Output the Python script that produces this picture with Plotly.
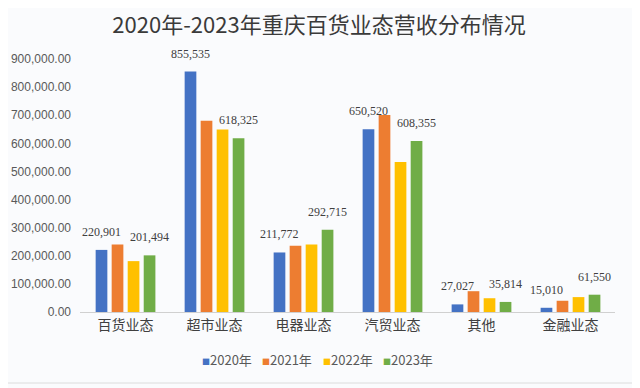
import plotly.graph_objects as go

categories = ["百货业态", "超市业态", "电器业态", "汽贸业态", "其他", "金融业态"]
years = ["2020年", "2021年", "2022年", "2023年"]
v2020 = [220901, 855535, 211772, 650520, 27027, 15010]
v2021 = [240000, 680000, 236000, 701000, 74000, 40000]
v2022 = [181000, 649000, 240000, 534000, 49000, 53000]
v2023 = [201494, 618325, 292715, 608355, 35814, 61550]
labelled = {"2020年": v2020, "2023年": v2023}
series = [v2020, v2021, v2022, v2023]
colors = ["#4472C4", "#ED7D31", "#FFC000", "#70AD47"]

# page body has an 8px margin; lay the figure out in page pixels minus 8
OFF = 8
PL, PR, PT, PB = 80 - OFF, 615 - OFF, 59 - OFF, 312 - OFF
W, H = 640, 388
PW, PH = PR - PL, PB - PT


def px_x(x):
    return (x - OFF - PL) / PW


def px_y(y):
    return (PB - (y - OFF)) / PH


BARGAP = 0.28
fig = go.Figure()
for name, vals, c in zip(years, series, colors):
    fig.add_trace(go.Bar(x=categories, y=vals, name=name, marker_color=c,
                         marker_line_width=0, showlegend=False))

slot = (1 - BARGAP) / len(years)
for j, name in enumerate(years):
    if name not in labelled:
        continue
    off = (j - (len(years) - 1) / 2) * slot
    for i, v in enumerate(labelled[name]):
        fig.add_annotation(x=i + off, y=v, xref="x", yref="y", text=f"{v:,}",
                           showarrow=False, yanchor="bottom", yshift=9,
                           font=dict(family="Liberation Serif", size=12, color="#404040"))

# legend row (square swatch + year label)
for k, (name, c) in enumerate(zip(years, colors)):
    fig.add_annotation(
        xref="paper", yref="paper", x=px_x(200 + k * 60.3), y=px_y(359),
        xanchor="left", yanchor="middle", showarrow=False,
        text=f"<span style='font-size:8px;color:{c}'>■</span>{name}",
        font=dict(family="Noto Sans CJK SC", size=13, color="#595959"))

# light frame of the original image
fig.add_shape(type="rect", xref="paper", yref="paper",
              x0=px_x(1), x1=px_x(635), y0=px_y(383), y1=px_y(1),
              line=dict(color="#dcdcdc", width=1), fillcolor="rgba(0,0,0,0)", layer="below")

fig.update_layout(
    width=W, height=H,
    margin=dict(l=PL, r=W - PR, t=PT, b=H - PB, autoexpand=False),
    paper_bgcolor="#fafbfd", plot_bgcolor="rgba(0,0,0,0)",
    barmode="group", bargap=BARGAP, bargroupgap=0.27,
    title=dict(text="2020年-2023年重庆百货业态营收分布情况", x=(319 - OFF) / W, xanchor="center",
               y=1 - (25.5 - OFF) / H, yanchor="middle",
               font=dict(family="Noto Sans CJK SC", size=22, color="#3a3a3a")),
    font=dict(family="Noto Sans CJK SC", color="#404040"),
    xaxis=dict(showline=True, linecolor="#d0d0d0", linewidth=1, showgrid=False,
               ticks="", automargin=False, tickfont=dict(size=14, color="#404040")),
    yaxis=dict(range=[0, 900000], dtick=100000, tickformat=",.2f", showgrid=False,
               zeroline=False, showline=False, ticks="", automargin=False,
               ticklabelstandoff=8,
               tickfont=dict(family="Liberation Sans", size=12, color="#595959")),
    showlegend=False,
)
fig.write_html("out.html")
